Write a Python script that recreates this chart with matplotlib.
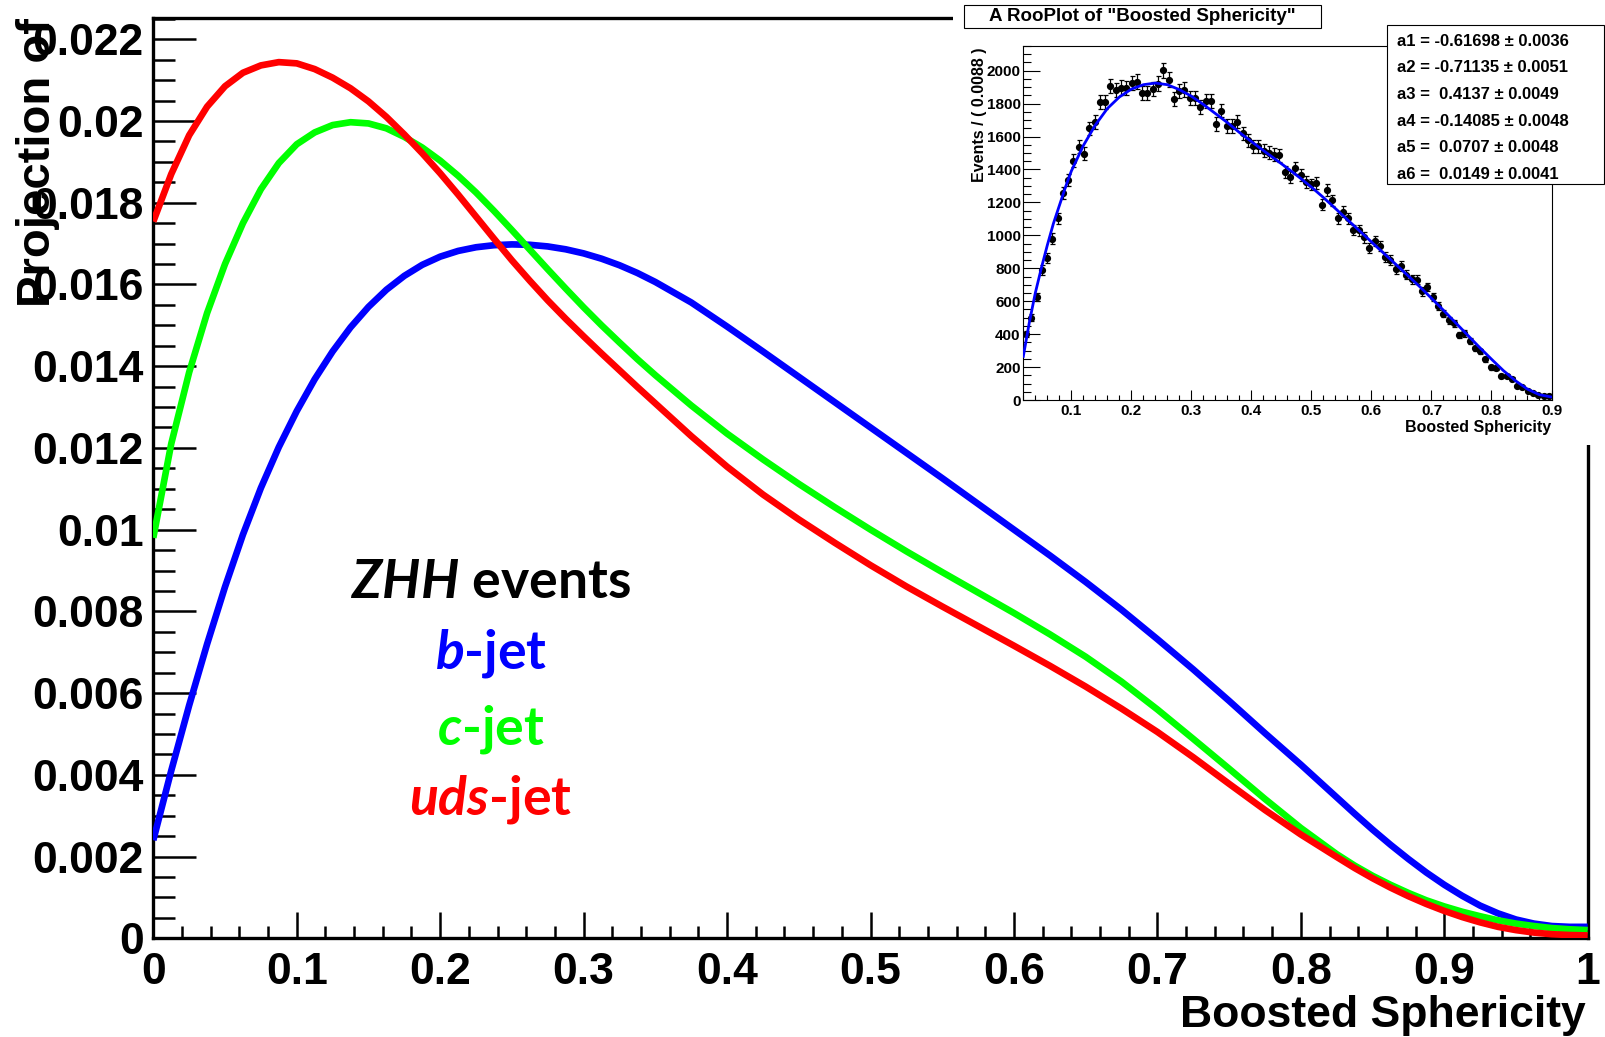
import numpy as np
import matplotlib
matplotlib.use("Agg")
import matplotlib.pyplot as plt
from matplotlib.patches import Rectangle
from matplotlib.ticker import MultipleLocator, FuncFormatter

# ---------------- data ----------------
sphericity = [0.0, 0.0125, 0.025, 0.0375, 0.05, 0.0625, 0.075, 0.0875, 0.1, 0.1125,
              0.125, 0.1375, 0.15, 0.1625, 0.175, 0.1875, 0.2, 0.2125, 0.225, 0.2375,
              0.25, 0.2625, 0.275, 0.2875, 0.3, 0.3125, 0.325, 0.3375, 0.35,
              0.375, 0.4, 0.425, 0.45, 0.475, 0.5, 0.525, 0.55, 0.575, 0.6,
              0.625, 0.65, 0.675, 0.7, 0.725, 0.75, 0.775, 0.8, 0.825,
              0.8375, 0.85, 0.8625, 0.875, 0.8875, 0.9, 0.9125, 0.925, 0.9375, 0.95,
              0.9625, 0.975, 0.9875, 1.0]

b_jet = [0.0024, 0.0041, 0.0057, 0.0072, 0.0086, 0.00988, 0.01102, 0.01202, 0.0129, 0.01368,
         0.01436, 0.01495, 0.01545, 0.01587, 0.01621, 0.01648, 0.01668, 0.01682, 0.01691, 0.01696,
         0.01698, 0.01697, 0.01693, 0.01686, 0.01676, 0.01663, 0.01647, 0.01628, 0.01606,
         0.01556, 0.01497, 0.01436, 0.01374, 0.01312, 0.01250, 0.01188, 0.01126, 0.01063, 0.01000,
         0.00937, 0.00872, 0.00804, 0.00732, 0.00658, 0.00581, 0.00502, 0.00425, 0.00345,
         0.00305, 0.00266, 0.00229, 0.00194, 0.00161, 0.00131, 0.00104, 0.00080, 0.00061, 0.00046,
         0.00036, 0.00030, 0.00028, 0.00028]

c_jet = [0.0098, 0.0121, 0.01385, 0.0153, 0.0165, 0.0175, 0.01833, 0.01897, 0.01943, 0.01972,
         0.01990, 0.01997, 0.01994, 0.01982, 0.01961, 0.01935, 0.01903, 0.01866, 0.01825, 0.01780,
         0.01733, 0.01685, 0.01637, 0.01590, 0.01544, 0.01500, 0.01458, 0.01417, 0.01378,
         0.01304, 0.01235, 0.01172, 0.01112, 0.01055, 0.01000, 0.00947, 0.00896, 0.00846, 0.00796,
         0.00744, 0.00689, 0.00628, 0.00560, 0.00488, 0.00415, 0.00341, 0.00270, 0.00206,
         0.00178, 0.00153, 0.00131, 0.00111, 0.00093, 0.00078, 0.00065, 0.00054, 0.00044, 0.00036,
         0.00030, 0.00025, 0.00022, 0.00020]

uds_jet = [0.01754, 0.01870, 0.01965, 0.02035, 0.02085, 0.02118, 0.02136, 0.02144, 0.02141, 0.02127,
           0.02106, 0.02080, 0.02048, 0.02010, 0.01967, 0.01921, 0.01872, 0.01820, 0.01766, 0.01712,
           0.01659, 0.01609, 0.01561, 0.01516, 0.01473, 0.01431, 0.01390, 0.01349, 0.01309,
           0.01229, 0.01154, 0.01086, 0.01025, 0.00968, 0.00913, 0.00861, 0.00812, 0.00764, 0.00716,
           0.00667, 0.00616, 0.00562, 0.00505, 0.00443, 0.00378, 0.00314, 0.00254, 0.00199,
           0.00172, 0.00147, 0.00124, 0.00103, 0.00084, 0.00067, 0.00052, 0.00039, 0.00028, 0.00020,
           0.00014, 0.00010, 0.00008, 0.00007]

# inset: RooPlot histogram (100 bins of 0.0088 from 0.02 to 0.9)
inset_range = (0.02, 0.9)
inset_counts = [400, 501, 626, 790, 861, 980, 1103, 1259, 1339, 1453,
                1539, 1497, 1650, 1689, 1812, 1812, 1907, 1881, 1897, 1895,
                1925, 1933, 1865, 1865, 1889, 1921, 2002, 1945, 1830, 1875,
                1885, 1832, 1832, 1778, 1814, 1814, 1677, 1758, 1663, 1663,
                1691, 1620, 1578, 1541, 1541, 1515, 1501, 1491, 1487, 1386,
                1354, 1410, 1366, 1323, 1309, 1319, 1186, 1277, 1212, 1105,
                1143, 1105, 1032, 1030, 988, 925, 966, 935, 869, 851,
                794, 814, 762, 733, 731, 659, 687, 626, 572, 525,
                485, 465, 394, 404, 356, 313, 295, 248, 198, 194,
                147, 147, 127, 87, 77, 53, 40, 32, 26, 26]

fit_x = [0.02, 0.03, 0.04, 0.05, 0.06, 0.07, 0.08, 0.09, 0.10, 0.12,
         0.14, 0.16, 0.18, 0.20, 0.22, 0.24, 0.26, 0.28, 0.30, 0.32,
         0.34, 0.36, 0.38, 0.40, 0.42, 0.44, 0.46, 0.48, 0.50, 0.52,
         0.54, 0.56, 0.58, 0.60, 0.62, 0.64, 0.66, 0.68, 0.70, 0.72,
         0.74, 0.76, 0.78, 0.80, 0.82, 0.84, 0.86, 0.88, 0.90]
fit_y = [265, 470, 650, 800, 940, 1070, 1180, 1290, 1390, 1545,
         1670, 1770, 1840, 1888, 1915, 1925, 1915, 1885, 1845, 1795,
         1740, 1685, 1625, 1570, 1515, 1462, 1408, 1352, 1293, 1230,
         1163, 1095, 1028, 960, 893, 826, 758, 690, 618, 545,
         470, 395, 320, 248, 178, 117, 66, 32, 18]

fit_params = ["a1 = -0.61698 \u00b1 0.0036",
              "a2 = -0.71135 \u00b1 0.0051",
              "a3 =  0.4137 \u00b1 0.0049",
              "a4 = -0.14085 \u00b1 0.0048",
              "a5 =  0.0707 \u00b1 0.0048",
              "a6 =  0.0149 \u00b1 0.0041"]

# ---------------- style ----------------
plt.rcParams['font.family'] = ['Liberation Sans', 'DejaVu Sans']
plt.rcParams['font.weight'] = 'bold'
plt.rcParams['mathtext.fontset'] = 'custom'
plt.rcParams['mathtext.it'] = 'Lato:italic:bold'
plt.rcParams['mathtext.rm'] = 'Lato:bold'
plt.rcParams['mathtext.bf'] = 'Lato:bold'

W, H = 1605, 1037
def fx(px):
    return px / W
def fy(py):
    return 1 - py / H

fig = plt.figure(figsize=(W / 100, H / 100), dpi=100)
fig.patch.set_facecolor('white')

# ---------------- main axes ----------------
L, R, B, T = 153.3, 1587.7, 938.3, 18.0
ax = fig.add_axes([fx(L), fy(B), fx(R) - fx(L), fy(T) - fy(B)], zorder=0)
ax.set_xlim(0, 1)
ax.set_ylim(0, 0.02252)

line_kw = dict(lw=4.8, solid_joinstyle='round', solid_capstyle='butt')
ax.plot(sphericity, b_jet, color='#0000ff', zorder=3, **line_kw)
ax.plot(sphericity, c_jet, color='#00ff00', zorder=4, **line_kw)
ax.plot(sphericity, uds_jet, color='#ff0000', zorder=5, **line_kw)

for s in ax.spines.values():
    s.set_linewidth(2.4)
ax.xaxis.set_major_locator(MultipleLocator(0.1))
ax.xaxis.set_minor_locator(MultipleLocator(0.02))
ax.yaxis.set_major_locator(MultipleLocator(0.002))
ax.yaxis.set_minor_locator(MultipleLocator(0.0005))
fmt = FuncFormatter(lambda v, p: '%g' % round(v, 5))
ax.xaxis.set_major_formatter(fmt)
ax.yaxis.set_major_formatter(fmt)
ax.tick_params(axis='x', which='major', direction='in', length=19, width=1.8,
               labelsize=32, pad=10, top=False)
ax.tick_params(axis='x', which='minor', direction='in', length=9, width=1.8, top=False)
ax.tick_params(axis='y', which='major', direction='in', length=31, width=1.8,
               labelsize=32, pad=7, right=False)
ax.tick_params(axis='y', which='minor', direction='in', length=16, width=1.8, right=False)
for lab in ax.get_xticklabels() + ax.get_yticklabels():
    lab.set_fontweight('bold')

fig.text(fx(38), fy(307), 'Projection of', rotation=90, ha='center', va='bottom',
         fontsize=34, fontweight='bold')
fig.text(fx(1586), fy(1027), 'Boosted Sphericity', ha='right', va='baseline',
         fontsize=32, fontweight='bold')

# annotations
ann_font = dict(family=['Lato', 'DejaVu Sans'], fontweight='bold', fontsize=38.5,
                ha='center', va='baseline')
fig.text(fx(491), fy(598), r'$ZHH$ events', color='black', **ann_font)
fig.text(fx(491), fy(668), r'$b$-jet', color='#0000ff', **ann_font)
fig.text(fx(491), fy(744), r'$c$-jet', color='#00ff00', **ann_font)
fig.text(fx(491), fy(815), r'$uds$-jet', color='#ff0000', **ann_font)

# ---------------- inset (RooPlot) ----------------
fig.add_artist(Rectangle((fx(953), fy(445)), 1 - fx(953), fy(0) - fy(445),
                         facecolor='white', edgecolor='none', zorder=1))

iL, iR, iB, iT = 1023.3, 1551.5, 400.0, 46.0
iax = fig.add_axes([fx(iL), fy(iB), fx(iR) - fx(iL), fy(iT) - fy(iB)], zorder=2)
iax.set_xlim(*inset_range)
iax.set_ylim(0, 2150)
edges = np.linspace(inset_range[0], inset_range[1], len(inset_counts) + 1)
centers = 0.5 * (edges[:-1] + edges[1:])
counts = np.array(inset_counts, dtype=float)
iax.errorbar(centers, counts, yerr=np.sqrt(counts), fmt='o', color='black', ms=4.2,
             elinewidth=0.9, capsize=1.8, capthick=0.9, zorder=3)
iax.plot(fit_x, fit_y, color='#0000ff', lw=2.0, zorder=4)
for s in iax.spines.values():
    s.set_linewidth(0.8)
iax.xaxis.set_major_locator(MultipleLocator(0.1))
iax.xaxis.set_minor_locator(MultipleLocator(0.02))
iax.yaxis.set_major_locator(MultipleLocator(200))
iax.yaxis.set_minor_locator(MultipleLocator(50))
iax.xaxis.set_major_formatter(fmt)
iax.tick_params(axis='x', which='major', direction='in', length=7, width=0.8,
                labelsize=11, pad=3, top=False)
iax.tick_params(axis='x', which='minor', direction='in', length=3.5, width=0.8, top=False)
iax.tick_params(axis='y', which='major', direction='in', length=12, width=0.8,
                labelsize=11, pad=2, right=False)
iax.tick_params(axis='y', which='minor', direction='in', length=6, width=0.8, right=False)
for lab in iax.get_xticklabels() + iax.get_yticklabels():
    lab.set_fontweight('bold')

fig.text(fx(980), fy(47), 'Events / ( 0.0088 )', rotation=90, ha='center', va='top',
         fontsize=11.5, fontweight='bold', zorder=5)
fig.text(fx(1551), fy(432), 'Boosted Sphericity', ha='right', va='baseline',
         fontsize=11.5, fontweight='bold', zorder=5)

# title box
fig.add_artist(Rectangle((fx(964), fy(28)), fx(1321) - fx(964), fy(5) - fy(28),
                         facecolor='white', edgecolor='black', lw=0.8, zorder=4))
fig.text(fx((964 + 1321) / 2), fy(16.5), 'A RooPlot of "Boosted Sphericity"',
         ha='center', va='center', fontsize=13.5, fontweight='bold', zorder=5)

# parameter box
fig.add_artist(Rectangle((fx(1387), fy(184)), fx(1604) - fx(1387), fy(25) - fy(184),
                         facecolor='white', edgecolor='black', lw=0.8, zorder=4))
row_y = [41.7, 67.7, 94.3, 121.3, 147.7, 174.3]
for txt, yy in zip(fit_params, row_y):
    fig.text(fx(1397), fy(yy), txt, ha='left', va='center', fontsize=12,
             fontweight='bold', zorder=5)

fig.savefig('out.png', dpi=100, facecolor='white')
